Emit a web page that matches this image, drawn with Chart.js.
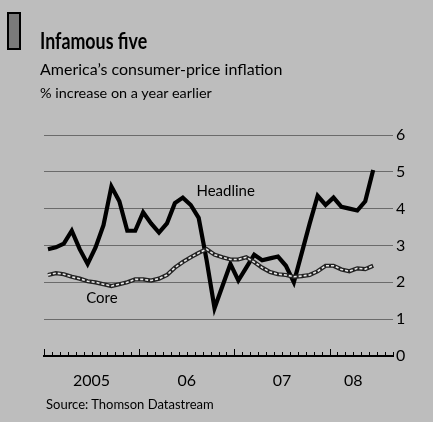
<!DOCTYPE html>
<html>
<head>
<meta charset="utf-8">
<script src="https://cdn.jsdelivr.net/npm/chart.js@4.4.0/dist/chart.umd.min.js"></script>
<style>
  html, body { margin: 0; padding: 0; }
  body { width: 433px; height: 422px; overflow: hidden; }
  #wrap { position: relative; width: 433px; height: 422px; background: #bdbdbd; font-family: Lato, sans-serif; color: #000; }
  #chart { position: absolute; left: 0; top: 0; }
  .txt { position: absolute; white-space: nowrap; transform-origin: left top; }
  #logo { position: absolute; left: 7px; top: 12px; width: 10px; height: 34px; border: 2px solid #000; background: #7a7a7a; }
  #title { left: 40px; top: 27px; font-size: 22px; font-weight: bold; transform: scaleX(0.81); }
  #sub1 { left: 40px; top: 59px; font-size: 16px; transform: scaleX(1.0); }
  #sub2 { left: 40px; top: 84px; font-size: 14px; transform: scaleX(1.03); }
  #source { left: 46px; top: 396px; font-size: 13px; transform: scaleX(1.0); }
</style>
</head>
<body>
<div id="wrap">
  <canvas id="chart" width="433" height="422"></canvas>
  <div id="logo"></div>
  <div class="txt" id="title">Infamous five</div>
  <div class="txt" id="sub1">America’s consumer-price inflation</div>
  <div class="txt" id="sub2">% increase on a year earlier</div>
  <div class="txt" id="source">Source: Thomson Datastream</div>
</div>
<script>
document.addEventListener('DOMContentLoaded', () => {

//////////////////////// Data ////////////////////////
// months, Jan 2005 to Jun 2008
const months = [
  '2005-01','2005-02','2005-03','2005-04','2005-05','2005-06','2005-07','2005-08','2005-09','2005-10','2005-11','2005-12',
  '2006-01','2006-02','2006-03','2006-04','2006-05','2006-06','2006-07','2006-08','2006-09','2006-10','2006-11','2006-12',
  '2007-01','2007-02','2007-03','2007-04','2007-05','2007-06','2007-07','2007-08','2007-09','2007-10','2007-11','2007-12',
  '2008-01','2008-02','2008-03','2008-04','2008-05','2008-06'
];
const yearLabels = ['2005', '06', '07', '08'];

// % increase on a year earlier
const headline = [
  2.9, 2.95, 3.05, 3.4, 2.9, 2.5, 2.95, 3.55, 4.6, 4.2, 3.4, 3.4,
  3.9, 3.6, 3.35, 3.6, 4.15, 4.3, 4.1, 3.75, 2.6, 1.3, 1.9, 2.5,
  2.05, 2.4, 2.75, 2.6, 2.65, 2.7, 2.45, 2.0, 2.8, 3.6, 4.35, 4.1,
  4.3, 4.05, 4.0, 3.95, 4.2, 5.05
];
const core = [
  2.2, 2.25, 2.22, 2.15, 2.1, 2.03, 2.0, 1.95, 1.9, 1.95, 2.0, 2.08,
  2.08, 2.05, 2.1, 2.2, 2.4, 2.55, 2.68, 2.8, 2.9, 2.75, 2.68, 2.62,
  2.62, 2.68, 2.55, 2.4, 2.28, 2.22, 2.2, 2.15, 2.17, 2.2, 2.3, 2.45,
  2.45, 2.35, 2.3, 2.38, 2.36, 2.45
];
const yTicks = [0, 1, 2, 3, 4, 5, 6];

//////////////////////// Helpers ////////////////////////
const toPoints = arr => arr.map((v, i) => ({ x: i, y: v }));

// centre of each year's run of months, for the year labels
const yearCentres = [...new Set(months.map(m => m.slice(0, 4)))].map(y => {
  const idx = months.map((m, i) => m.startsWith(y) ? i : -1).filter(i => i >= 0);
  return (idx[0] + idx[idx.length - 1]) / 2;
});

const font = 'Lato, sans-serif';

// month ticks pointing up from the zero line, taller at each new year
const monthTicks = {
  id: 'monthTicks',
  afterDraw(chart) {
    const { ctx, scales: { x, y } } = chart;
    const base = y.getPixelForValue(0);
    ctx.save();
    ctx.strokeStyle = '#000';
    ctx.lineWidth = 1;
    for (let k = 0; k <= Math.floor(x.max + 0.5); k++) {
      const px = Math.round(x.getPixelForValue(k - 0.5)) + 0.5;
      const tall = months[k] && months[k].endsWith('-01');
      ctx.beginPath();
      ctx.moveTo(px, base);
      ctx.lineTo(px, base - (tall ? 7 : 4));
      ctx.stroke();
    }
    ctx.restore();
  }
};

// series names written on the plot
const seriesLabels = {
  id: 'seriesLabels',
  afterDatasetsDraw(chart) {
    const { ctx, scales: { x, y } } = chart;
    ctx.save();
    ctx.fillStyle = '#000';
    ctx.font = '15px ' + font;
    ctx.textAlign = 'center';
    ctx.textBaseline = 'middle';
    ctx.fillText('Headline', x.getPixelForValue(22.4), y.getPixelForValue(4.48));
    ctx.fillText('Core', x.getPixelForValue(6.8), y.getPixelForValue(1.58));
    ctx.restore();
  }
};

//////////////////////// Chart ////////////////////////
const chart = new Chart(document.getElementById('chart'), {
  type: 'line',
  data: {
    datasets: [
      {
        label: 'Core',
        data: toPoints(core),
        borderColor: '#e6e6e6',
        borderWidth: 1.6,
        borderDash: [3, 2],
        pointRadius: 0,
        tension: 0
      },
      {
        label: 'Core outline',
        data: toPoints(core),
        borderColor: '#222',
        borderWidth: 4.2,
        pointRadius: 0,
        tension: 0
      },
      {
        label: 'Headline',
        data: toPoints(headline),
        borderColor: '#000',
        borderWidth: 4.2,
        pointRadius: 0,
        tension: 0
      }
    ]
  },
  options: {
    responsive: false,
    animation: false,
    layout: { padding: { left: 44, top: 135, right: 25, bottom: 26 } },
    plugins: {
      legend: { display: false },
      tooltip: { enabled: false }
    },
    scales: {
      x: {
        type: 'linear',
        min: -0.5,
        max: 43.5,
        afterBuildTicks: axis => {
          axis.ticks = yearCentres.map(v => ({ value: v }));
        },
        afterFit: axis => { axis.height = 40; },
        grid: { display: false, drawTicks: false },
        border: { display: true, color: '#000', width: 2 },
        ticks: {
          padding: 15,
          autoSkip: false,
          maxRotation: 0,
          color: '#000',
          font: { family: font, size: 16 },
          callback: (v, i) => yearLabels[i]
        }
      },
      y: {
        position: 'right',
        min: 0,
        max: 6,
        afterBuildTicks: axis => {
          axis.ticks = yTicks.map(v => ({ value: v }));
        },
        afterFit: axis => { axis.width = 15; },
        grid: { color: '#555', lineWidth: 0.8, drawTicks: false },
        border: { display: false },
        ticks: {
          padding: 3,
          color: '#000',
          font: { family: font, size: 16 }
        }
      }
    }
  },
  plugins: [monthTicks, seriesLabels]
});

});
</script>
</body>
</html>
